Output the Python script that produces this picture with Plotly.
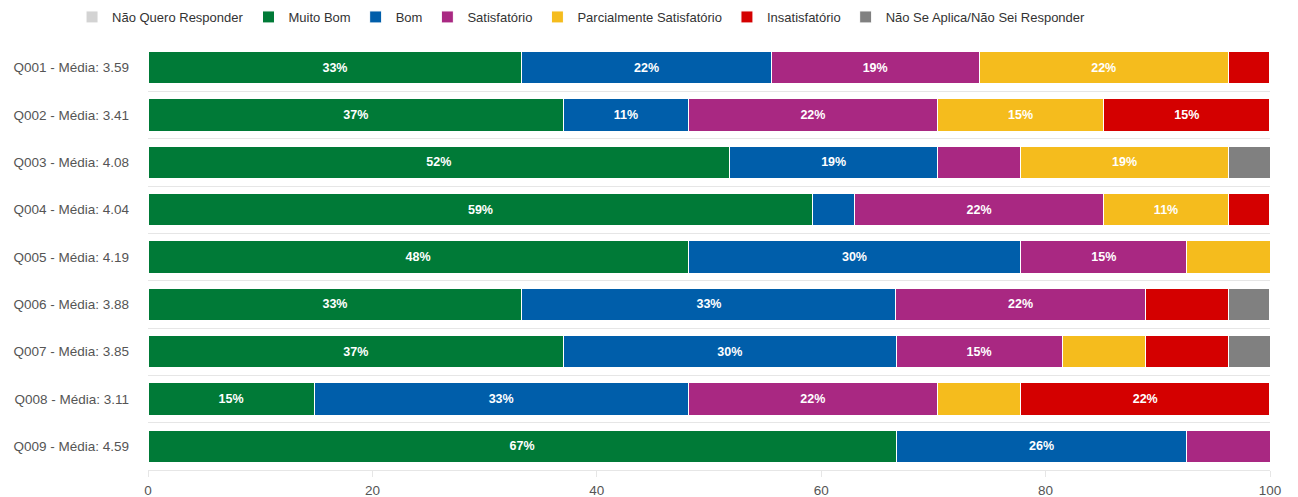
import plotly.graph_objects as go

categories = ["Q001 - Média: 3.59", "Q002 - Média: 3.41", "Q003 - Média: 4.08",
              "Q004 - Média: 4.04", "Q005 - Média: 4.19", "Q006 - Média: 3.88",
              "Q007 - Média: 3.85", "Q008 - Média: 3.11", "Q009 - Média: 4.59"]

nao_quero = [0, 0, 0, 0, 0, 0, 0, 0, 0]
muito_bom = [33.33, 37.04, 51.85, 59.26, 48.15, 33.33, 37.04, 14.81, 66.67]
bom = [22.22, 11.11, 18.52, 3.70, 29.63, 33.33, 29.63, 33.33, 25.93]
satisfatorio = [18.52, 22.22, 7.41, 22.22, 14.81, 22.22, 14.81, 22.22, 7.41]
parcial = [22.22, 14.81, 18.52, 11.11, 7.41, 0, 7.41, 7.41, 0]
insatisfatorio = [3.70, 14.81, 0, 3.70, 0, 7.41, 7.41, 22.22, 0]
nao_se_aplica = [0, 0, 3.70, 0, 0, 3.70, 3.70, 0, 0]

x_ticks = [0, 20, 40, 60, 80, 100]

series = [
    ("Não Quero Responder", nao_quero, "#D3D3D3"),
    ("Muito Bom", muito_bom, "#007A37"),
    ("Bom", bom, "#005EAA"),
    ("Satisfatório", satisfatorio, "#A92882"),
    ("Parcialmente Satisfatório", parcial, "#F5BC1D"),
    ("Insatisfatório", insatisfatorio, "#D40000"),
    ("Não Se Aplica/Não Sei Responder", nao_se_aplica, "#808080"),
]

fig = go.Figure()
for name, vals, color in series:
    labels = [f"{round(v)}%" if v >= 10 else "" for v in vals]
    fig.add_trace(go.Bar(
        y=categories, x=vals, name=name, orientation="h",
        marker=dict(color=color, line=dict(color="white", width=1)),
        text=labels, textposition="inside", insidetextanchor="middle",
        textfont=dict(color="white", size=12.5, family="Liberation Sans"),
        texttemplate="<b>%{text}</b>", textangle=0,
        hoverinfo="x+name",
    ))

fig.update_layout(
    barmode="stack",
    bargap=0.32,
    width=1298, height=497,
    margin=dict(l=148, r=28, t=44, b=27, autoexpand=False),
    plot_bgcolor="white", paper_bgcolor="white",
    font=dict(family="Liberation Sans", size=12, color="#555"),
    legend=dict(orientation="h", xref="container", yref="container",
                x=0.0555, xanchor="left", y=0.996, yanchor="top",
                font=dict(size=13, color="#333"), itemwidth=30,
                traceorder="normal", tracegroupgap=0),
    showlegend=True,
    uniformtext=dict(mode="show", minsize=8),
)
fig.update_xaxes(range=[0, 100], tickvals=x_ticks, showgrid=False, zeroline=False,
                 showline=True, linecolor="#e6e6e6", ticks="outside", ticklen=6,
                 tickcolor="#e6e6e6", ticklabelstandoff=2,
                 tickfont=dict(size=13.5, color="#555"))
fig.update_yaxes(autorange="reversed", tickson="boundaries", showgrid=True,
                 gridcolor="#e6e6e6", gridwidth=1, ticks="", ticklen=0,
                 ticklabelstandoff=18,
                 tickfont=dict(size=13.5, color="#555"))

fig.write_html("out.html", config={"displayModeBar": False},
               post_script="document.body.style.margin='0';document.body.style.overflow='hidden';")
